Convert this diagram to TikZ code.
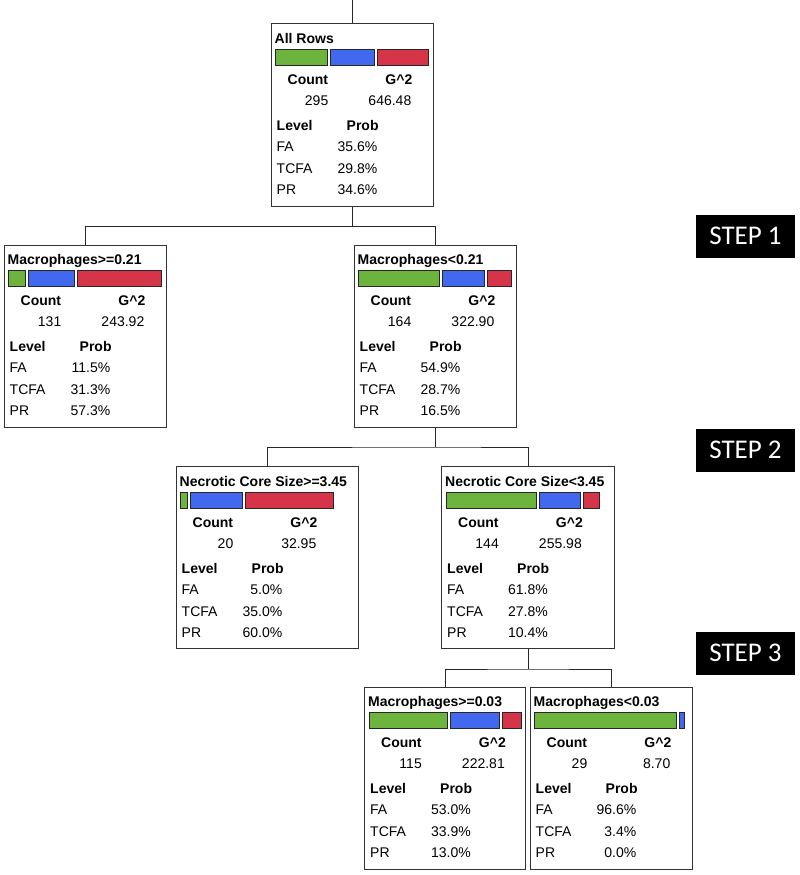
\documentclass[tikz,border=0pt]{standalone}
\usepackage{fontspec}
\setmainfont{Liberation Sans}
\newfontfamily\stepfont{Carlito}
\usetikzlibrary{calc}

\definecolor{fagreen}{RGB}{108,180,62}
\definecolor{tcfablue}{RGB}{66,104,240}
\definecolor{prred}{RGB}{214,52,72}

\newcommand{\splitinfo}[7]{%
  \begin{scope}[shift={(#1.north west)}]
    \node[nodetitle] (#1-title) at (4,20) {#2};
    \pgfmathsetmacro\gend{5+1.47*#5}
    \pgfmathsetmacro\bend{\gend+3+1.47*#6}
    \pgfmathsetmacro\rend{\bend+3+1.47*#7}
    \draw[bar, fill=fagreen] (5,26) rectangle (\gend,42);
    \draw[bar, fill=tcfablue] (\gend+3,26) rectangle (\bend,42);
    \ifdim #7pt>0pt \draw[bar, fill=prred] (\bend+3,26) rectangle (\rend,42);\fi
    \node[colhead, anchor=base west] (#1-ch) at (17,61) {Count};
    \node[colhead, anchor=base east] (#1-gh) at (142,61) {G\textasciicircum 2};
    \node[cell, anchor=base east] (#1-c) at (58,82) {#3};
    \node[cell, anchor=base east] (#1-g) at (141,82) {#4};
    \node[colhead, anchor=base west] (#1-lh) at (6,107) {Level};
    \node[colhead, anchor=base west] (#1-ph) at (76,107) {Prob};
    \node[cell, anchor=base west] (#1-l1) at (6,128) {FA};
    \node[cell, anchor=base west] (#1-l2) at (6,150) {TCFA};
    \node[cell, anchor=base west] (#1-l3) at (6,171) {PR};
    \node[cell, anchor=base east] (#1-p1) at (107,128) {#5\%};
    \node[cell, anchor=base east] (#1-p2) at (107,150) {#6\%};
    \node[cell, anchor=base east] (#1-p3) at (107,171) {#7\%};
  \end{scope}}

\begin{document}
\begin{tikzpicture}[
    x=1pt, y=-1pt,
    font=\fontsize{14}{16}\selectfont,
    splitbox/.style={draw=black!80, line width=1pt, fill=white, minimum width=162pt,
      minimum height=182pt, inner sep=0pt},
    nodetitle/.style={anchor=base west, inner sep=0pt, font=\fontsize{14}{16}\selectfont\bfseries},
    colhead/.style={inner sep=0pt, font=\fontsize{14}{16}\selectfont\bfseries},
    cell/.style={inner sep=0pt},
    bar/.style={draw=black!85, line width=0.8pt},
    edge/.style={draw=black!85, line width=1pt},
    stepbox/.style={fill=black, text=white, minimum width=99pt, minimum height=43pt,
      inner sep=0pt, font=\fontsize{27}{30}\selectfont\stepfont}
  ]
    \useasboundingbox (0,0) rectangle (800,875);
    \node[splitbox] (root) at (352,115) {};
    \node[splitbox] (m1) at (85,336) {};
    \node[splitbox] (m2) at (435,336) {};
    \node[splitbox, minimum width=182pt] (n1) at (267,557.5) {};
    \node[splitbox, minimum width=173pt] (n2) at (528,557.5) {};
    \node[splitbox, minimum width=161pt] (m3) at (445,778) {};
    \node[splitbox] (m4) at (611,778) {};

    \splitinfo{root}{All Rows}{295}{646.48}{35.6}{29.8}{34.6}
    \splitinfo{m1}{Macrophages>=0.21}{131}{243.92}{11.5}{31.3}{57.3}
    \splitinfo{m2}{Macrophages<0.21}{164}{322.90}{54.9}{28.7}{16.5}
    \splitinfo{n1}{Necrotic Core Size>=3.45}{20}{32.95}{5.0}{35.0}{60.0}
    \splitinfo{n2}{Necrotic Core Size<3.45}{144}{255.98}{61.8}{27.8}{10.4}
    \splitinfo{m3}{Macrophages>=0.03}{115}{222.81}{53.0}{33.9}{13.0}
    \splitinfo{m4}{Macrophages<0.03}{29}{8.70}{96.6}{3.4}{0.0}

    \coordinate (rootin) at (352,0);
    \draw[edge] (rootin) -- (root.north);
    \draw[edge] (root.south) -- ++(0,19.7) coordinate (j1);
    \draw[edge] (m1.north) |- (j1) -| (m2.north);
    \draw[edge] (m2.south) -- ++(0,19.5) coordinate (j2);
    \draw[edge] (n1.north) |- (j2) -| (n2.north);
    \draw[edge] (n2.south) -- ++(0,20) coordinate (j3);
    \draw[edge] (m3.north) |- (j3) -| (m4.north);

    \node[stepbox] (step1) at (745.5,236) {STEP 1};
    \node[stepbox] (step2) at (745.5,450) {STEP 2};
    \node[stepbox] (step3) at (745.5,653) {STEP 3};
  \end{tikzpicture}
\end{document}
